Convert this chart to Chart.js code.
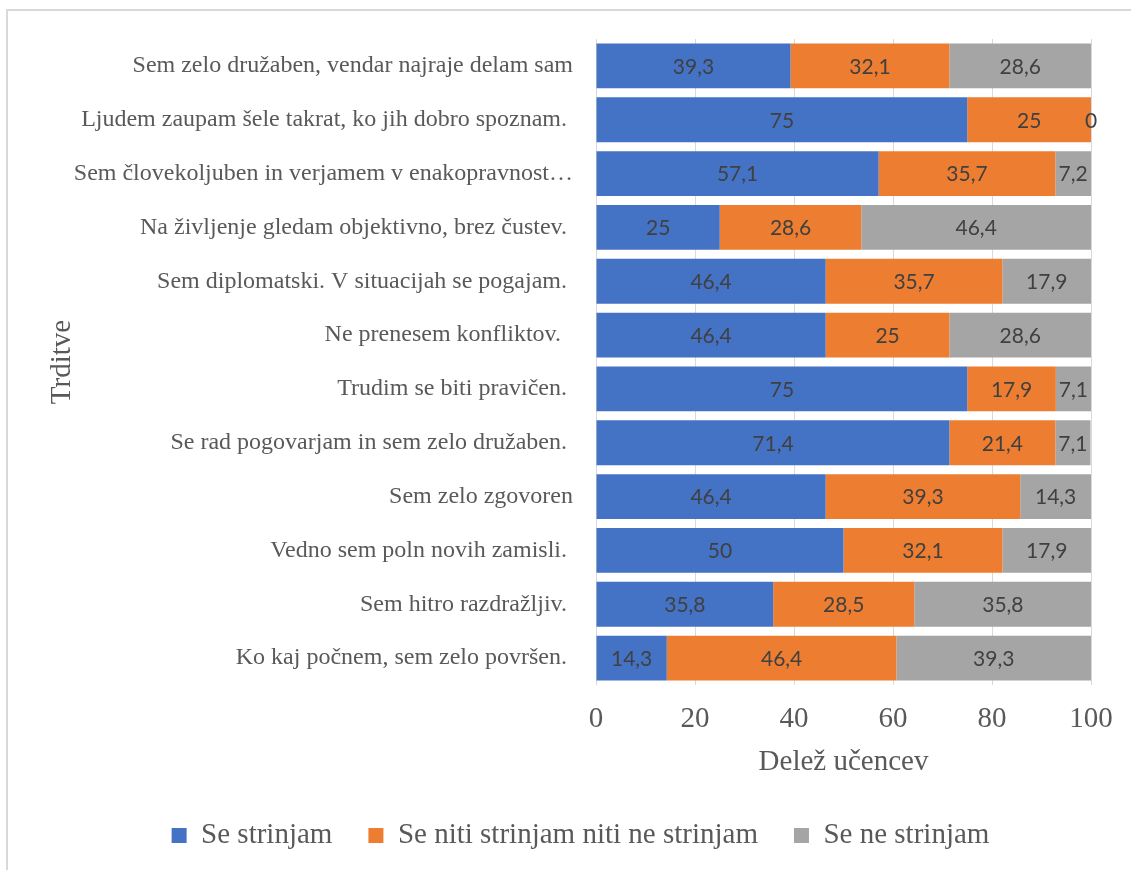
<!DOCTYPE html>
<html>
<head>
<meta charset="utf-8">
<script src="https://cdn.jsdelivr.net/npm/chart.js@4.4.0/dist/chart.umd.min.js"></script>
<style>
  html, body { margin: 0; padding: 0; background: #fff; overflow: hidden; }
  #frame { position: absolute; left: 6px; top: 9px; width: 2000px; height: 2000px;
           border-left: 2px solid #d9d9d9; border-top: 2px solid #d9d9d9; }
  #wrap { position: absolute; left: 0; top: 0; width: 1131px; height: 870px; }
</style>
</head>
<body>
<div id="frame"></div>
<div id="wrap"><canvas id="myChart"></canvas></div>
<script>
var statements = [
  "Sem zelo družaben, vendar najraje delam sam",
  "Ljudem zaupam šele takrat, ko jih dobro spoznam. ",
  "Sem človekoljuben in verjamem v enakopravnost…",
  "Na življenje gledam objektivno, brez čustev. ",
  "Sem diplomatski. V situacijah se pogajam. ",
  "Ne prenesem konfliktov.  ",
  "Trudim se biti pravičen. ",
  "Se rad pogovarjam in sem zelo družaben. ",
  "Sem zelo zgovoren",
  "Vedno sem poln novih zamisli. ",
  "Sem hitro razdražljiv. ",
  "Ko kaj počnem, sem zelo površen. "
];

var agree    = [39.3, 75, 57.1, 25, 46.4, 46.4, 75, 71.4, 46.4, 50, 35.8, 14.3];
var neutral  = [32.1, 25, 35.7, 28.6, 35.7, 25, 17.9, 21.4, 39.3, 32.1, 28.5, 46.4];
var disagree = [28.6, 0, 7.2, 46.4, 17.9, 28.6, 7.1, 7.1, 14.3, 17.9, 35.8, 39.3];

var seriesNames = ["Se strinjam", "Se niti strinjam niti ne strinjam", "Se ne strinjam"];
var xTicks = [0, 20, 40, 60, 80, 100];

Chart.defaults.font.family = "'Liberation Serif', 'Times New Roman', serif";
Chart.defaults.color = "#595959";

// value labels in the middle of each segment
var barLabels = {
  id: "barLabels",
  afterDatasetsDraw: function(chart) {
    var ctx = chart.ctx;
    ctx.save();
    ctx.font = "21px Lato, 'Open Sans', sans-serif";
    ctx.fillStyle = "#404040";
    ctx.textAlign = "center";
    ctx.textBaseline = "middle";
    chart.data.datasets.forEach(function(ds, di) {
      var meta = chart.getDatasetMeta(di);
      meta.data.forEach(function(bar, i) {
        var txt = String(ds.data[i]).replace(".", ",");
        ctx.fillText(txt, (bar.x + bar.base) / 2, bar.y + 1);
      });
    });
    ctx.restore();
  }
};

var data = {
  labels: statements,
  datasets: [
    { label: seriesNames[0], data: agree, backgroundColor: "#4472C4" },
    { label: seriesNames[1], data: neutral, backgroundColor: "#ED7D31" },
    { label: seriesNames[2], data: disagree, backgroundColor: "#A5A5A5" }
  ]
};

var options = {
  indexAxis: "y",
  responsive: true,
  maintainAspectRatio: false,
  animation: false,
  layout: { padding: { top: 39, right: 40, bottom: 10, left: 70 } },
  datasets: { bar: { categoryPercentage: 1.0, barPercentage: 0.833 } },
  scales: {
    x: {
      stacked: true,
      min: 0,
      max: 100,
      afterBuildTicks: function(scale) {
        scale.ticks = xTicks.map(function(v) { return { value: v }; });
      },
      afterFit: function(scale) { scale.height = 100; },
      grid: { color: "#d9d9d9", drawTicks: false },
      border: { display: false },
      ticks: { font: { size: 29 }, padding: 17, color: "#595959" },
      title: { display: true, text: "Delež učencev", font: { size: 29 }, color: "#595959",
               padding: { top: 0, bottom: 5 } }
    },
    y: {
      stacked: true,
      afterFit: function(scale) { scale.width = 526; },
      grid: { display: false, drawTicks: false },
      border: { display: false },
      ticks: { font: { size: 24 }, padding: 23, color: "#595959", autoSkip: false },
      title: { display: true, text: "Trditve", font: { size: 29 }, color: "#595959",
               padding: { top: -25, bottom: 0 } }
    }
  },
  plugins: {
    legend: {
      position: "bottom",
      labels: { font: { size: 29 }, color: "#595959", boxWidth: 15, boxHeight: 15, padding: 36 }
    },
    tooltip: { enabled: false }
  }
};

var ctx = document.getElementById("myChart").getContext("2d");
var barChart = new Chart(ctx, {
  type: "bar",
  data: data,
  options: options,
  plugins: [barLabels]
});
</script>
</body>
</html>
